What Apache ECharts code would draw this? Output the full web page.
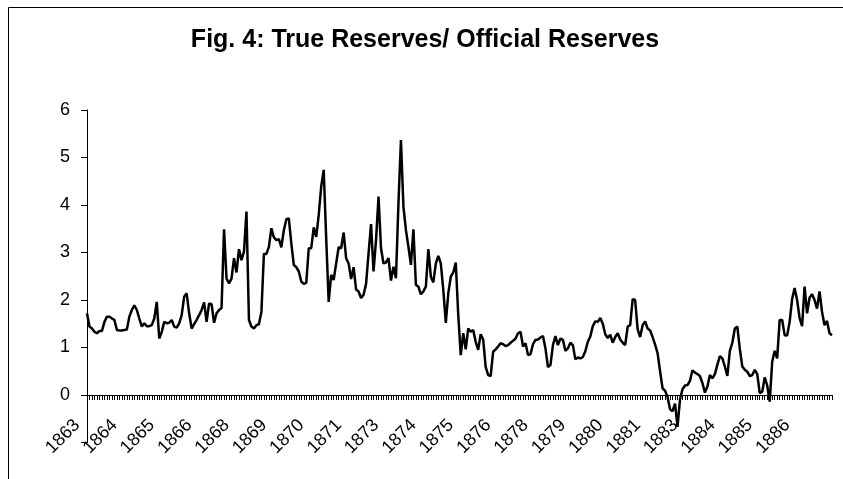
<!DOCTYPE html>
<html>
<head>
<meta charset="utf-8">
<script src="https://cdn.jsdelivr.net/npm/echarts@6/dist/echarts.min.js"></script>
<style>
html,body{margin:0;padding:0;background:#fff;}
#chart{width:843px;height:479px;}
</style>
</head>
<body>
<div id="chart"></div>
<script>
// Monthly observations, January 1863 to December 1887
var startYear = 1863;
var endYear = 1887;
var categories = [];
for (var y = startYear; y <= endYear; y++) {
  for (var m = 0; m < 12; m++) { categories.push(String(y)); }
}

var ratioValues = [
  1.72, 1.44, 1.40, 1.33, 1.30, 1.35, 1.35, 1.54, 1.65, 1.65,
  1.61, 1.58, 1.37, 1.36, 1.36, 1.37, 1.38, 1.65, 1.79, 1.89,
  1.79, 1.61, 1.44, 1.51, 1.45, 1.45, 1.47, 1.61, 1.96, 1.19,
  1.33, 1.54, 1.51, 1.52, 1.58, 1.44, 1.42, 1.51, 1.68, 2.07,
  2.14, 1.72, 1.40, 1.49, 1.58, 1.68, 1.79, 1.95, 1.54, 1.93,
  1.91, 1.52, 1.72, 1.79, 1.83, 3.49, 2.45, 2.35, 2.45, 2.88,
  2.58, 3.07, 2.84, 3.02, 3.86, 1.58, 1.44, 1.40, 1.47, 1.49,
  1.75, 2.97, 2.97, 3.12, 3.51, 3.32, 3.26, 3.28, 3.11, 3.47,
  3.70, 3.72, 3.19, 2.74, 2.69, 2.60, 2.39, 2.34, 2.36, 3.09,
  3.09, 3.53, 3.33, 3.79, 4.39, 4.74, 3.30, 1.96, 2.53, 2.42,
  2.77, 3.11, 3.09, 3.42, 2.88, 2.77, 2.44, 2.69, 2.22, 2.18,
  2.04, 2.11, 2.34, 2.98, 3.60, 2.60, 3.26, 4.18, 3.09, 2.77,
  2.79, 2.88, 2.41, 2.70, 2.46, 4.04, 5.37, 3.96, 3.47, 3.12,
  2.74, 3.49, 2.32, 2.28, 2.12, 2.18, 2.28, 3.07, 2.49, 2.37,
  2.77, 2.93, 2.77, 2.21, 1.52, 2.14, 2.49, 2.58, 2.79, 1.68,
  0.84, 1.30, 0.96, 1.40, 1.33, 1.37, 1.12, 0.95, 1.28, 1.17,
  0.59, 0.42, 0.40, 0.91, 0.96, 1.02, 1.09, 1.07, 1.03, 1.05,
  1.10, 1.14, 1.19, 1.30, 1.33, 1.02, 1.09, 0.84, 0.86, 1.07,
  1.16, 1.17, 1.21, 1.24, 0.98, 0.59, 0.63, 1.05, 1.24, 1.05,
  1.19, 1.16, 0.93, 0.98, 1.10, 1.05, 0.75, 0.79, 0.77, 0.80,
  0.92, 1.12, 1.23, 1.45, 1.55, 1.54, 1.62, 1.50, 1.28, 1.20,
  1.27, 1.10, 1.22, 1.30, 1.17, 1.10, 1.05, 1.44, 1.47, 2.02,
  2.00, 1.38, 1.22, 1.47, 1.55, 1.40, 1.36, 1.22, 1.06, 0.88,
  0.50, 0.14, 0.09, -0.04, -0.30, -0.34, -0.18, -0.67, -0.09, 0.12,
  0.20, 0.21, 0.30, 0.52, 0.47, 0.44, 0.40, 0.25, 0.05, 0.18,
  0.42, 0.35, 0.44, 0.64, 0.82, 0.77, 0.60, 0.40, 0.93, 1.10,
  1.40, 1.44, 0.97, 0.60, 0.53, 0.49, 0.40, 0.42, 0.53, 0.44,
  0.04, 0.07, 0.37, 0.20, -0.14, 0.70, 0.93, 0.77, 1.58, 1.58,
  1.26, 1.25, 1.54, 2.02, 2.25, 2.00, 1.62, 1.45, 2.28, 1.72,
  2.05, 2.12, 2.00, 1.82, 2.18, 1.75, 1.47, 1.56, 1.30, 1.26
];

var yTicks = [-1, 0, 1, 2, 3, 4, 5, 6];
var titleText = 'Fig. 4: True Reserves/ Official Reserves';
var FONT = '"Liberation Sans", Arial, sans-serif';

var chart = echarts.init(document.getElementById('chart'), null, {renderer: 'canvas'});
chart.setOption({
  animation: false,
  backgroundColor: '#ffffff',
  title: {
    text: titleText,
    left: 420,
    top: 23,
    textAlign: 'center',
    textStyle: {fontFamily: FONT, fontSize: 25, fontWeight: 'bold', color: '#000'}
  },
  graphic: [{
    type: 'rect',
    silent: true,
    z: -10,
    shape: {x: 8.5, y: 7.5, width: 1000, height: 1000},
    style: {fill: 'none', stroke: '#000', lineWidth: 1}
  }],
  grid: {left: 87, right: 11, top: 110, bottom: 36.5, containLabel: false},
  xAxis: [{
    type: 'category',
    data: categories,
    boundaryGap: false,
    axisLine: {show: true, onZero: true, lineStyle: {color: '#000', width: 1}},
    axisTick: {show: true, interval: 0, length: 5, inside: false, lineStyle: {color: '#000', width: 1}},
    axisLabel: {show: false},
    splitLine: {show: false}
  }, {
    type: 'category',
    data: categories,
    boundaryGap: false,
    position: 'bottom',
    offset: -30,
    axisLine: {show: false, onZero: false},
    axisTick: {show: false},
    axisLabel: {interval: 14, rotate: 45, margin: 0, padding: [0, 14, 0, 0], fontSize: 18, fontFamily: FONT, color: '#000'},
    splitLine: {show: false}
  }],
  yAxis: {
    type: 'value',
    min: yTicks[0],
    max: yTicks[yTicks.length - 1],
    interval: 1,
    axisLine: {show: true, lineStyle: {color: '#000', width: 1}},
    axisTick: {show: true, length: 6, lineStyle: {color: '#000', width: 1}},
    axisLabel: {
      margin: 17, fontSize: 18, fontFamily: FONT, color: '#000',
      formatter: function (v) { return v === -1 ? '' : String(v); }
    },
    splitLine: {show: false}
  },
  series: [{
    type: 'line',
    xAxisIndex: 0,
    data: ratioValues,
    showSymbol: false,
    symbol: 'none',
    lineStyle: {color: '#000', width: 2.5},
    itemStyle: {color: '#000'}
  }]
});
</script>
</body>
</html>
